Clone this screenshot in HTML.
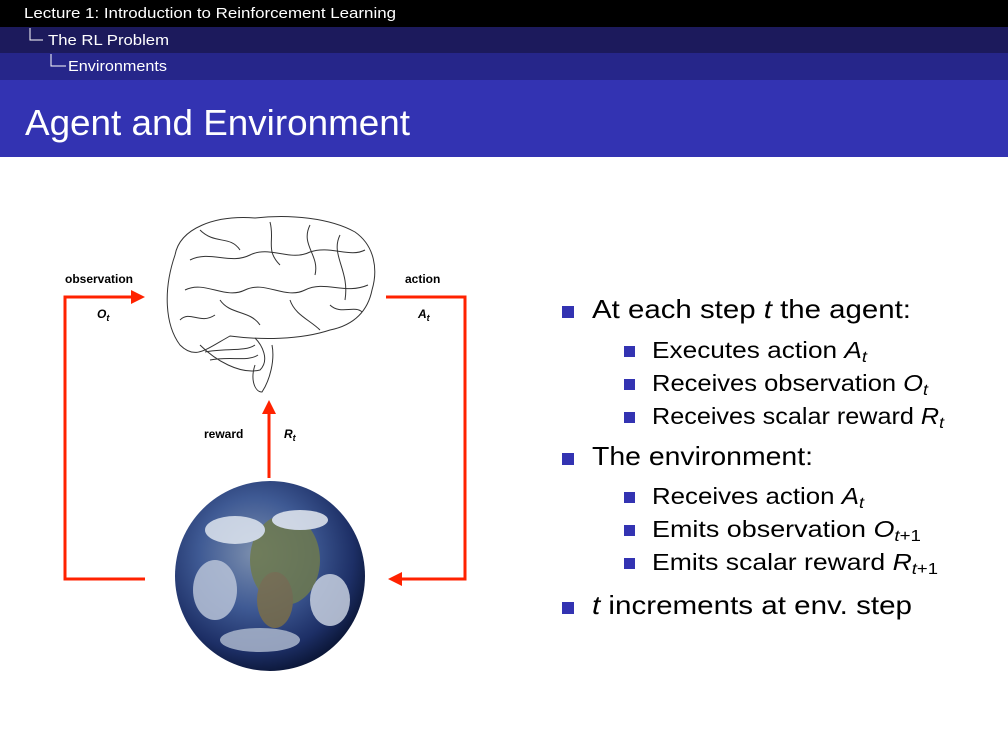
<!DOCTYPE html>
<html><head><meta charset="utf-8"><style>
html,body{margin:0;padding:0;background:#fff;}
svg{display:block;font-family:"Liberation Sans",sans-serif;}
</style></head><body>
<svg width="1008" height="756" viewBox="0 0 1008 756" xmlns="http://www.w3.org/2000/svg">
<defs>
<radialGradient id="eg" cx="0.42" cy="0.38" r="0.65">
<stop offset="0" stop-color="#7c8fae"/><stop offset="0.45" stop-color="#3f5a94"/><stop offset="0.8" stop-color="#1d2f66"/><stop offset="1" stop-color="#0a1535"/>
</radialGradient>
</defs>
<rect x="0" y="0" width="1008" height="27" fill="#000"/>
<rect x="0" y="27" width="1008" height="26" fill="#1c1a5c"/>
<rect x="0" y="53" width="1008" height="27" fill="#26268a"/>
<rect x="0" y="80" width="1008" height="77" fill="#3333b2"/>
<text x="24" y="18" font-size="15" fill="#fff" textLength="372" lengthAdjust="spacingAndGlyphs">Lecture 1: Introduction to Reinforcement Learning</text>
<path d="M30,28 V40 H43" stroke="#fff" fill="none" stroke-width="1"/>
<text x="48" y="45" font-size="15" fill="#fff" textLength="121" lengthAdjust="spacingAndGlyphs">The RL Problem</text>
<path d="M51,54 V66 H66" stroke="#fff" fill="none" stroke-width="1"/>
<text x="68" y="71" font-size="15" fill="#fff" textLength="99" lengthAdjust="spacingAndGlyphs">Environments</text>
<text x="25" y="135" font-size="36" fill="#fff" textLength="385" lengthAdjust="spacingAndGlyphs">Agent and Environment</text>

<!-- brain -->
<g fill="none" stroke="#333" stroke-width="1">
<path d="M175,255 C180,228 215,215 255,218 C290,214 330,218 355,232 C375,246 378,270 372,290 C368,310 355,325 330,330 C300,340 260,340 230,336 C205,350 195,360 180,345 C165,325 163,290 175,255 Z"/>
<path d="M200,345 C215,360 240,375 260,370 C270,360 262,345 255,338"/>
<path d="M255,365 C250,380 255,392 262,392 C270,380 275,360 272,345"/>
<path d="M190,260 C210,250 230,265 250,255 C270,245 290,262 310,252 C330,245 350,258 365,250"/>
<path d="M185,290 C205,280 225,300 245,290 C265,280 285,300 305,290 C325,280 345,295 368,285"/>
<path d="M200,230 C215,245 230,235 240,250 M270,222 C275,240 265,250 280,265 M310,225 C300,245 320,255 315,275 M340,235 C330,255 350,270 345,300 M220,300 C230,315 250,310 260,325 M290,300 C295,315 310,320 320,330"/>
<path d="M205,352 C225,348 245,352 255,345 M210,360 C230,356 248,362 258,355"/>
<path d="M180,320 C190,310 200,325 215,315 M330,305 C340,315 355,305 362,312"/>
</g>

<!-- earth -->
<circle cx="270" cy="576" r="95" fill="url(#eg)"/>
<g opacity="0.85">
<ellipse cx="285" cy="560" rx="35" ry="45" fill="#6e7a4e"/>
<ellipse cx="275" cy="600" rx="18" ry="28" fill="#7a6e4a"/>
<ellipse cx="235" cy="530" rx="30" ry="14" fill="#dfe6f0"/>
<ellipse cx="300" cy="520" rx="28" ry="10" fill="#e6ebf2"/>
<ellipse cx="215" cy="590" rx="22" ry="30" fill="#b8c3d8"/>
<ellipse cx="330" cy="600" rx="20" ry="26" fill="#c7d0e0"/>
<ellipse cx="260" cy="640" rx="40" ry="12" fill="#aab6cc"/>
</g>

<!-- arrows -->
<g stroke="#ff2200" stroke-width="3" fill="none">
<path d="M145,579 H65 V297 H133"/>
<path d="M386,297 H465 V579 H400"/>
<path d="M269,478 V412"/>
</g>
<path d="M131,290 L145,297 L131,304 z" fill="#ff2200"/>
<path d="M402,572 L388,579 L402,586 z" fill="#ff2200"/>
<path d="M262,414 L269,400 L276,414 z" fill="#ff2200"/>

<g font-size="12" font-weight="bold" fill="#000">
<text x="65" y="283">observation</text>
<text x="405" y="283">action</text>
<text x="204" y="438">reward</text>
<text x="97" y="318" font-style="italic">O<tspan font-size="9" dy="3">t</tspan></text>
<text x="418" y="318" font-style="italic">A<tspan font-size="9" dy="3">t</tspan></text>
<text x="284" y="438" font-style="italic">R<tspan font-size="9" dy="3">t</tspan></text>
</g>

<!-- bullets -->
<g fill="#3333b2">
<rect x="562" y="306" width="12" height="12"/>
<rect x="562" y="453" width="12" height="12"/>
<rect x="562" y="602" width="12" height="12"/>
<rect x="624" y="346" width="11" height="11"/>
<rect x="624" y="379" width="11" height="11"/>
<rect x="624" y="412" width="11" height="11"/>
<rect x="624" y="492" width="11" height="11"/>
<rect x="624" y="525" width="11" height="11"/>
<rect x="624" y="558" width="11" height="11"/>
</g>
<g fill="#000">
<text x="592" y="318" font-size="26" textLength="319" lengthAdjust="spacingAndGlyphs">At each step <tspan font-style="italic">t</tspan> the agent:</text>
<text x="592" y="465" font-size="26" textLength="221" lengthAdjust="spacingAndGlyphs">The environment:</text>
<text x="592" y="614" font-size="26" textLength="320" lengthAdjust="spacingAndGlyphs"><tspan font-style="italic">t</tspan> increments at env. step</text>
<g font-size="23">
<text x="652" y="358" textLength="215" lengthAdjust="spacingAndGlyphs">Executes action <tspan font-style="italic">A</tspan><tspan font-style="italic" font-size="16" dy="4">t</tspan></text>
<text x="652" y="391" textLength="276" lengthAdjust="spacingAndGlyphs">Receives observation <tspan font-style="italic">O</tspan><tspan font-style="italic" font-size="16" dy="4">t</tspan></text>
<text x="652" y="424" textLength="292" lengthAdjust="spacingAndGlyphs">Receives scalar reward <tspan font-style="italic">R</tspan><tspan font-style="italic" font-size="16" dy="4">t</tspan></text>
<text x="652" y="504" textLength="212" lengthAdjust="spacingAndGlyphs">Receives action <tspan font-style="italic">A</tspan><tspan font-style="italic" font-size="16" dy="4">t</tspan></text>
<text x="652" y="537" textLength="269" lengthAdjust="spacingAndGlyphs">Emits observation <tspan font-style="italic">O</tspan><tspan font-size="16" dy="4"><tspan font-style="italic">t</tspan>+1</tspan></text>
<text x="652" y="570" textLength="286" lengthAdjust="spacingAndGlyphs">Emits scalar reward <tspan font-style="italic">R</tspan><tspan font-size="16" dy="4"><tspan font-style="italic">t</tspan>+1</tspan></text>
</g>
</g>
</svg>
</body></html>
